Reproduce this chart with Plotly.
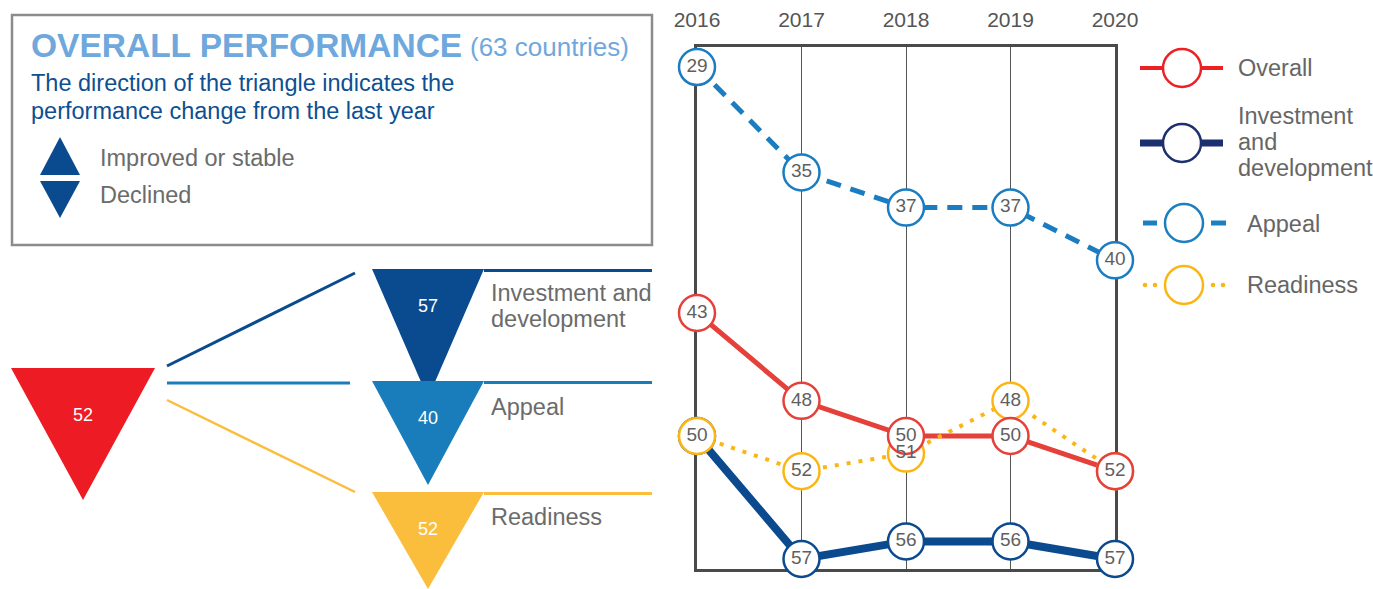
import plotly.graph_objects as go

W, H = 1373, 589

years = [2016, 2017, 2018, 2019, 2020]
overall = [43, 48, 50, 50, 52]
investment = [50, 57, 56, 56, 57]
appeal = [29, 35, 37, 37, 40]
readiness = [50, 52, 51, 48, 52]

RED = "#e5403a"
NAVY = "#0b4a8e"
BLUE = "#1b7dc1"
GOLD = "#fbb614"
GRAY = "#5f5f5f"
FONT = "Liberation Sans, Arial, sans-serif"

fig = go.Figure()

# ---- main rank chart (reversed y: lower rank = better) ----
series = [
    ("Appeal", appeal, BLUE, 5, "15px,10px"),
    ("Investment and development", investment, NAVY, 8, "solid"),
    ("Overall", overall, RED, 5, "solid"),
    ("Readiness", readiness, GOLD, 4, "4px,8px"),
]
for name, vals, col, w, dash in series:
    fig.add_trace(go.Scatter(x=years, y=vals, mode="lines", name=name,
                             line=dict(color=col, width=w, dash=dash),
                             hoverinfo="skip", showlegend=False, cliponaxis=False))

marker_order = [series[0], series[1], series[3], series[2]]
for name, vals, col, w, dash in marker_order:
    fig.add_trace(go.Scatter(x=years, y=vals, mode="markers", name=name,
                             marker=dict(size=36, color="white", line=dict(color=col, width=2.5)),
                             showlegend=False, cliponaxis=False))
# rank numbers on top of every circle (skip ones hidden under a later circle)
for k, (name, vals, col, w, dash) in enumerate(marker_order):
    labels = []
    for i, v in enumerate(vals):
        hidden = any(later[1][i] == v for later in marker_order[k + 1:])
        labels.append("" if hidden else str(v))
    fig.add_trace(go.Scatter(x=years, y=vals, mode="text", name=name,
                             text=labels, textposition="middle center",
                             textfont=dict(size=19, color=GRAY, family=FONT),
                             hoverinfo="skip", showlegend=False, cliponaxis=False))

x0, x1, y0, y1 = 697, 1115, 47, 569
fig.update_layout(
    xaxis=dict(domain=[x0 / W, x1 / W], range=[2016, 2020], side="top",
               tickvals=years, ticktext=[str(y) for y in years], ticks="",
               ticklabelstandoff=9, tickfont=dict(size=21, color="#555555", family=FONT),
               showgrid=True, gridcolor="#555555", gridwidth=1.3,
               showline=True, linecolor="#4a4a4a", linewidth=3, mirror=True,
               zeroline=False, layer="below traces", fixedrange=True, automargin=False),
    yaxis=dict(domain=[1 - y1 / H, 1 - y0 / H], range=[57.57, 27.86], autorange=False,
               showticklabels=False, ticks="", showgrid=False, zeroline=False,
               showline=True, linecolor="#4a4a4a", linewidth=3, mirror=True,
               layer="below traces", fixedrange=True, automargin=False),
    # pixel canvas for the infographic and custom legend
    xaxis2=dict(domain=[0, 1], range=[0, W], visible=False, fixedrange=True, automargin=False),
    yaxis2=dict(domain=[0, 1], range=[H, 0], visible=False, fixedrange=True, automargin=False),
)
fig.add_trace(go.Scatter(x=[0], y=[0], xaxis="x2", yaxis="y2", mode="markers",
                         marker=dict(opacity=0), hoverinfo="skip", showlegend=False))

shapes = []
annos = []


def txt(x, y, s, size=22, color=GRAY, anchor="left", bold=False):
    annos.append(dict(x=x, y=y, xref="x2", yref="y2", text=("<b>%s</b>" % s) if bold else s,
                      showarrow=False, xanchor=anchor, yanchor="middle",
                      font=dict(size=size, color=color, family=FONT)))


def tri(cx, top, half, h, col, up=False):
    if up:
        p = "M %f %f L %f %f L %f %f Z" % (cx - half, top + h, cx + half, top + h, cx, top)
    else:
        p = "M %f %f L %f %f L %f %f Z" % (cx - half, top, cx + half, top, cx, top + h)
    shapes.append(dict(type="path", path=p, xref="x2", yref="y2",
                       fillcolor=col, line=dict(width=0)))


def seg(xa, ya, xb, yb, col, w, dash="solid"):
    shapes.append(dict(type="line", x0=xa, y0=ya, x1=xb, y1=yb, xref="x2", yref="y2",
                       line=dict(color=col, width=w, dash=dash)))


def circ(cx, cy, r, col, w=2.5, fill="white"):
    shapes.append(dict(type="circle", x0=cx - r, x1=cx + r, y0=cy - r, y1=cy + r,
                       xref="x2", yref="y2", fillcolor=fill, line=dict(color=col, width=w)))


# info box
shapes.append(dict(type="rect", x0=12, x1=652, y0=15, y1=245, xref="x2", yref="y2",
                   line=dict(color="#8c8c8c", width=2.5), fillcolor="rgba(0,0,0,0)"))
txt(29, 45, "OVERALL PERFORMANCE", size=33.5, color="#6fa8dc", bold=True)
txt(468, 47, "(63 countries)", size=26, color="#6fa8dc")
txt(29, 83, "The direction of the triangle indicates the", size=23.5, color="#0d4f92")
txt(29, 111, "performance change from the last year", size=23.5, color="#0d4f92")
tri(60, 137, 20, 38, "#0a4b8f", up=True)
tri(60, 181, 20, 37, "#0a4b8f")
txt(98, 158, "Improved or stable", size=23.5, color="#6b6b6b")
txt(98, 195, "Declined", size=23.5, color="#6b6b6b")

# breakdown infographic (latest year)
PNAVY, PBLUE, PGOLD = "#0a4b8f", "#1a7dbb", "#fbbd3c"
tri(83, 368, 72, 132, "#ed1c24")
txt(83, 415, str(overall[-1]), size=18, color="white", anchor="center")
seg(167, 366, 355, 273, PNAVY, 3)
seg(167, 383, 350, 383, PBLUE, 3)
seg(167, 400, 355, 492, PGOLD, 2.5)
for top, h, col, val in [(269, 129, PNAVY, investment[-1]),
                         (381, 104, PBLUE, appeal[-1]),
                         (492, 97, PGOLD, readiness[-1])]:
    tri(428, top, 56, h, col)
    seg(484, top + 1.5, 652, top + 1.5, col, 3)
    txt(428, top + 37, str(val), size=18, color="white", anchor="center")
txt(489, 293, "Investment and", size=23.5, color="#6b6b6b")
txt(489, 319, "development", size=23.5, color="#6b6b6b")
txt(489, 407, "Appeal", size=23.5, color="#6b6b6b")
txt(489, 517, "Readiness", size=23.5, color="#6b6b6b")

# custom legend
seg(1140, 68, 1223, 68, "#ed2024", 4)
circ(1182, 68, 19, "#ed2024")
txt(1236, 68, "Overall", size=23.5, color="#666666")

seg(1140, 143, 1223, 143, "#1c2f6f", 7)
circ(1182, 143, 19, "#1c2f6f")
txt(1236, 116, "Investment", size=23.5, color="#666666")
txt(1236, 142, "and", size=23.5, color="#666666")
txt(1236, 168, "development", size=23.5, color="#666666")

seg(1143, 223, 1157, 223, "#1c7fc0", 5)
seg(1211, 223, 1226, 223, "#1c7fc0", 5)
circ(1184, 223, 19, "#1c7fc0")
txt(1245, 224, "Appeal", size=23.5, color="#666666")

for dx in [1145, 1155, 1213, 1223]:
    circ(dx, 285, 2.3, GOLD, w=0, fill=GOLD)
circ(1184, 285, 19, GOLD)
txt(1245, 285, "Readiness", size=23.5, color="#666666")

fig.update_layout(width=W, height=H, margin=dict(l=0, r=0, t=0, b=0, pad=0, autoexpand=False),
                  paper_bgcolor="white", plot_bgcolor="rgba(0,0,0,0)",
                  shapes=shapes, annotations=annos, showlegend=False,
                  font=dict(family=FONT))

fig.write_html("out.html", config={"displayModeBar": False},
               post_script="document.body.style.margin='0';document.body.style.overflow='hidden';")
